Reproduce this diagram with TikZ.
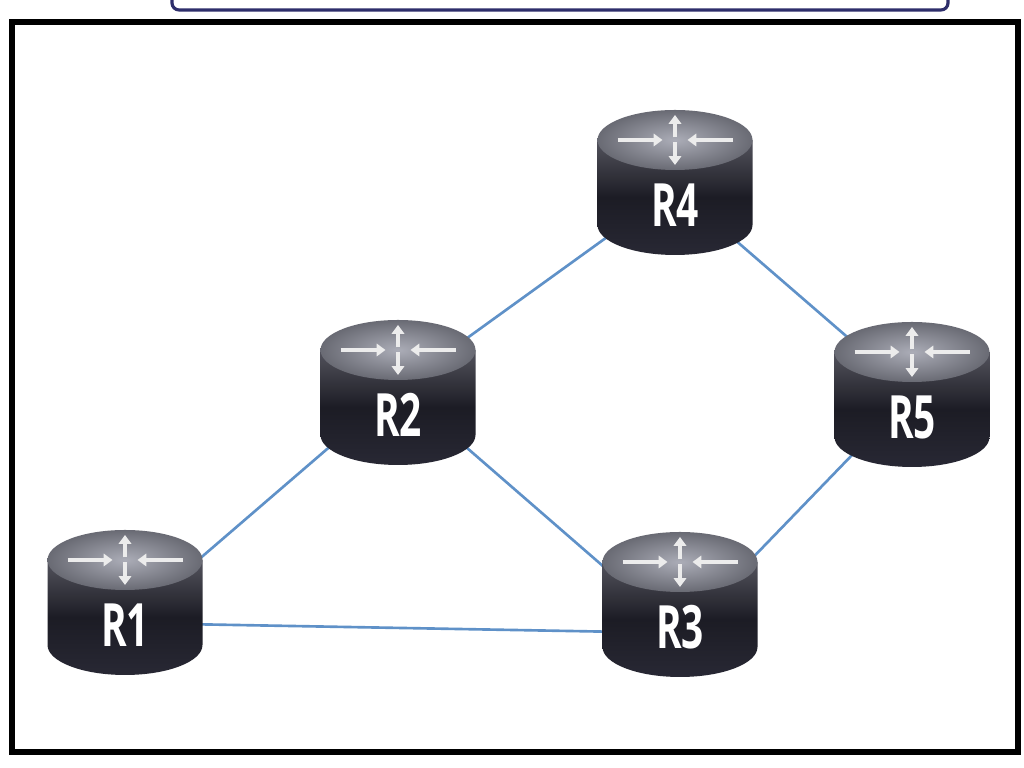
\documentclass[tikz,border=0pt]{standalone}
\usepackage{fontspec}
\setsansfont{Open Sans}
\usepackage{tikz}
\usetikzlibrary{arrows.meta}
\definecolor{linkblue}{RGB}{95,145,200}
\definecolor{bodytop}{RGB}{150,152,165}
\definecolor{bodydark}{RGB}{40,40,52}
\tikzset{
  link/.style={linkblue, line width=1.5pt},
  mark arrow/.style={white!85!gray, line width=2.2pt, -{Triangle[length=5pt,width=7pt]}},
  routerlabel/.style={text=white, font=\sffamily\bfseries\fontsize{34}{34}\selectfont, xscale=0.65}
}
% router: name, x, y of top ellipse, label
\newcommand{\router}[4]{%
  \begin{scope}[shift={(#2,#3)}]
    \shade[top color=bodydark!80!white, bottom color=bodydark, middle color=bodydark!70!black]
      (-1.55,0) -- (-1.55,-1.7) arc[start angle=180, end angle=360, x radius=1.55, y radius=0.6]
      -- (1.55,0) -- cycle;
    \shade[inner color=bodytop!80!white, outer color=bodytop!70!black]
      (0,0) ellipse[x radius=1.55, y radius=0.6];
    \draw[mark arrow] (-1.15,0) -- (-0.25,0);
    \draw[mark arrow] (1.15,0) -- (0.25,0);
    \draw[mark arrow] (0,0.05) -- (0,0.5);
    \draw[mark arrow] (0,-0.05) -- (0,-0.5);
    \node[routerlabel] (#1) at (0,-1.3) {#4};
  \end{scope}}

\begin{document}
\begin{tikzpicture}
  \useasboundingbox (0,0) rectangle (20.48,15.36);
  \fill[white] (0,0) rectangle (20.48,15.36);
  % top box and frame
  \draw[gray!60!blue!60!black, line width=1.8pt, rounded corners=4pt, fill=white] (3.44,15.16) rectangle (18.96,16);
  \draw[black, line width=3pt] (0.24,0.32) rectangle (20.36,14.92);
  % link ends
  \coordinate (c1) at (2.5,2.9);
  \coordinate (c2) at (7.96,7.6);
  \coordinate (c3) at (13.6,2.7);
  \coordinate (c4) at (13.5,11.6);
  \coordinate (c5) at (18.24,7.5);
  % links
  \draw[link] (c1) -- (c2);
  \draw[link] (c1) -- (c3);
  \draw[link] (c2) -- (c4);
  \draw[link] (c2) -- (c3);
  \draw[link] (c4) -- (c5);
  \draw[link] (c5) -- (c3);
  % routers
  \router{r4}{13.5}{12.56}{R4}
  \router{r2}{7.96}{8.36}{R2}
  \router{r5}{18.24}{8.32}{R5}
  \router{r1}{2.5}{4.16}{R1}
  \router{r3}{13.6}{4.12}{R3}
\end{tikzpicture}
\end{document}
